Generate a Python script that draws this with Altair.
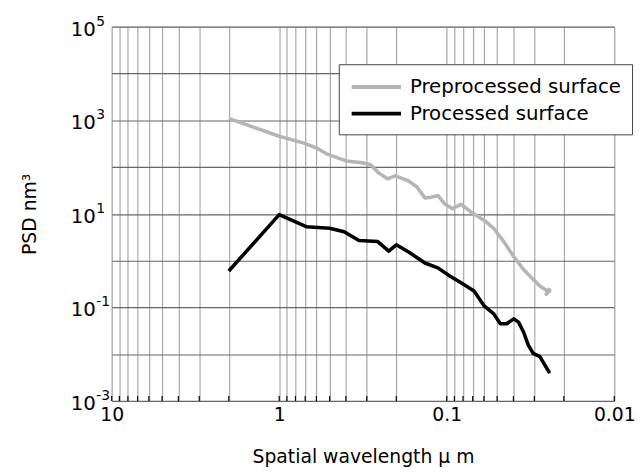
import altair as alt
import pandas as pd

# Spatial wavelength (um) and PSD (nm^3)
pre_wl = [2.0, 1.0, 0.72, 0.601, 0.525, 0.400, 0.319, 0.285, 0.255, 0.226, 0.203, 0.180, 0.170,
          0.151, 0.135, 0.1236, 0.113, 0.1033, 0.0923, 0.0822, 0.0718, 0.060, 0.0524, 0.0457,
          0.0399, 0.0348, 0.0305, 0.0278, 0.0255, 0.0243, 0.0255, 0.0243]
pre_psd = [1100, 455, 329, 258, 194, 135, 124, 112, 75, 56, 65, 55, 51,
           38, 21.9, 22.7, 24.7, 16.5, 12.9, 16.0, 11.0, 7.33, 4.9, 2.55,
           1.23, 0.646, 0.397, 0.287, 0.233, 0.225, 0.19, 0.257]

pro_wl = [2.0, 1.0, 0.69, 0.50, 0.41, 0.334, 0.258, 0.222, 0.200, 0.168, 0.135, 0.113, 0.0964,
          0.0822, 0.0687, 0.060, 0.0524, 0.0479, 0.0438, 0.0399, 0.0373, 0.0348, 0.0326,
          0.0305, 0.0278, 0.0243]
pro_psd = [0.6, 9.6, 5.3, 4.9, 4.15, 2.68, 2.55, 1.6, 2.18, 1.51, 0.89, 0.70, 0.475,
           0.335, 0.225, 0.109, 0.0726, 0.0447, 0.0447, 0.0569, 0.0484, 0.0298, 0.0156,
           0.0104, 0.00885, 0.00394]

series_names = ["Preprocessed surface", "Processed surface"]
series_colors = ["#b5b5b5", "#000000"]

x_ticks = [10, 9, 8, 7, 6, 5, 4, 3, 2,
           1, 0.9, 0.8, 0.7, 0.6, 0.5, 0.4, 0.3, 0.2,
           0.1, 0.09, 0.08, 0.07, 0.06, 0.05, 0.04, 0.03, 0.02, 0.01]
x_labeled = [10, 1, 0.1, 0.01]
y_ticks = [1e-3, 1e-2, 1e-1, 1, 10, 100, 1e3, 1e4, 1e5]
y_label_values = [1e5, 1e3, 1e1, 1e-1, 1e-3]
y_label_exponents = ["5", "3", "1", "-1", "-3"]

rows = []
for i, (w, p) in enumerate(zip(pre_wl, pre_psd)):
    rows.append({"wl": w, "psd": p, "series": series_names[0], "idx": i})
for i, (w, p) in enumerate(zip(pro_wl, pro_psd)):
    rows.append({"wl": w, "psd": p, "series": series_names[1], "idx": i})
df = pd.DataFrame(rows)
ticks_df = pd.DataFrame({"wl": x_ticks})
ylab_df = pd.DataFrame({"psd": y_label_values, "exp": y_label_exponents})

FONT = "DejaVu Sans"

xscale = alt.Scale(type="log", domain=[0.01, 10], reverse=True, nice=False)
yscale = alt.Scale(type="log", domain=[1e-3, 1e5], nice=False)

label_test = " || ".join(f"datum.value == {v}" for v in x_labeled)

lines = alt.Chart(df).mark_line(strokeWidth=3.6, strokeJoin="round").encode(
    x=alt.X("wl:Q", scale=xscale,
            axis=alt.Axis(values=x_ticks, title="Spatial wavelength  μ m",
                          format=".2~f",
                          labelExpr=f"({label_test}) ? datum.label : ''",
                          labelOverlap=False, labelFlush=False,
                          grid=True, gridColor="#a8a8a8", gridWidth=1.2,
                          ticks=False, domain=False,
                          labelFont=FONT, labelFontSize=19, labelColor="black",
                          labelPadding=5,
                          titleFont=FONT, titleFontSize=19, titleFontWeight="normal",
                          titleColor="black", titleY=62, titleBaseline="alphabetic")),
    y=alt.Y("psd:Q", scale=yscale,
            axis=alt.Axis(values=y_ticks, title="PSD nm³", labels=False,
                          grid=True, gridColor="#666666", gridWidth=1.2,
                          ticks=False, domain=False,
                          titleFont=FONT, titleFontSize=19, titleFontWeight="normal",
                          titleColor="black", titleAngle=270, titleX=-77, titleY=189.5,
                          titleBaseline="alphabetic", titleAlign="center")),
    color=alt.Color("series:N",
                    scale=alt.Scale(domain=series_names, range=series_colors),
                    legend=alt.Legend(title=None, orient="none", legendX=230, legendY=38,
                                      fillColor="white", strokeColor="#444444",
                                      padding=11,
                                      symbolType="M-2.5,0H2.5",
                                      symbolSize=400, symbolStrokeWidth=4,
                                      symbolOffset=15,
                                      labelFont=FONT, labelFontSize=20, labelColor="black",
                                      labelLimit=400,
                                      labelOffset=22, rowPadding=5)),
    order=alt.Order("idx:Q"),
)

tick_marks = alt.Chart(ticks_df).mark_rule(color="black", strokeWidth=1.2).encode(
    x=alt.X("wl:Q", scale=xscale),
    y=alt.value(379),
    y2=alt.value(374),
)

ylab_base = alt.Chart(ylab_df).mark_text(
    text="10", align="right", baseline="alphabetic", dy=9,
    font=FONT, fontSize=20, color="black",
).encode(
    y=alt.Y("psd:Q", scale=yscale),
    x=alt.value(-16),
)

ylab_exp = alt.Chart(ylab_df).mark_text(
    align="left", baseline="alphabetic", dy=-1,
    font=FONT, fontSize=14, color="black",
).encode(
    y=alt.Y("psd:Q", scale=yscale),
    x=alt.value(-15.5),
    text="exp:N",
)

chart = alt.layer(tick_marks, lines, ylab_base, ylab_exp).properties(
    width=509, height=379,
    autosize=alt.AutoSizeParams(type="none"),
    padding={"left": 105, "top": 16, "right": 22, "bottom": 68},
).configure_view(stroke="black", strokeWidth=1.5).configure(background="white")

chart.save("out.html", embed_options={"renderer": "svg", "actions": False})
